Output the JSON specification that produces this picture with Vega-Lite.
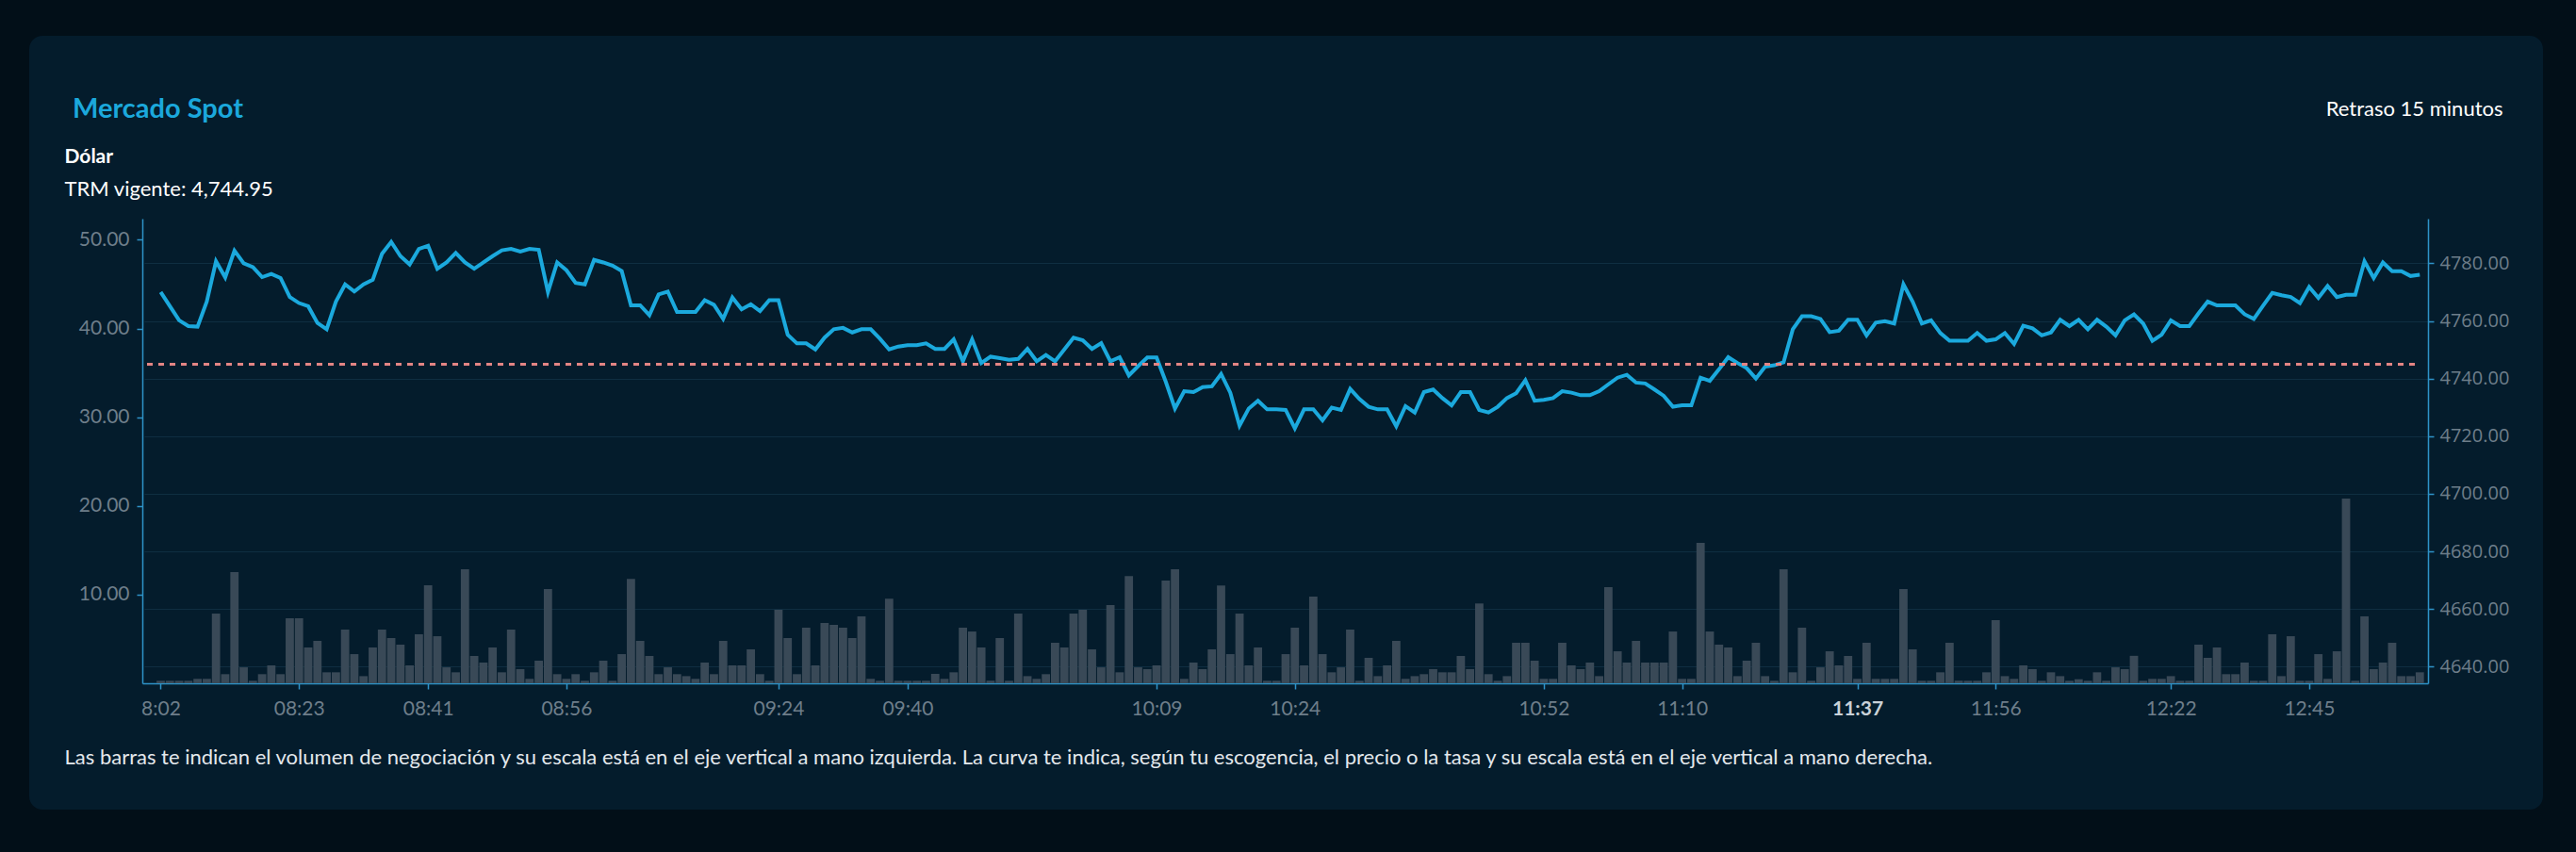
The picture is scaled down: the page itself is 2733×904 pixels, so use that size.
{
  "$schema": "https://vega.github.io/schema/vega-lite/v6.json",
  "width": 2667,
  "height": 821,
  "autosize": "none",
  "padding": {"left": 31, "top": 38, "right": 35, "bottom": 45},
  "background": "#020f18",
  "title": {
    "text": "Mercado Spot",
    "anchor": "start",
    "frame": "group",
    "orient": "top",
    "offset": -93,
    "dx": 46,
    "font": "Lato",
    "fontSize": 29,
    "fontWeight": "bold",
    "color": "#1ba8dc"
  },
  "datasets": {
    "mercado": [
      {"i": 0, "volumen": 0.28, "precio": 4770.0},
      {"i": 1, "volumen": 0.28, "precio": 4765.1},
      {"i": 2, "volumen": 0.28, "precio": 4760.2},
      {"i": 3, "volumen": 0.28, "precio": 4758.2},
      {"i": 4, "volumen": 0.5, "precio": 4758.0},
      {"i": 5, "volumen": 0.5, "precio": 4766.7},
      {"i": 6, "volumen": 7.86, "precio": 4780.7},
      {"i": 7, "volumen": 1.03, "precio": 4775.1},
      {"i": 8, "volumen": 12.54, "precio": 4784.4},
      {"i": 9, "volumen": 1.8, "precio": 4780.0},
      {"i": 10, "volumen": 0.28, "precio": 4778.7},
      {"i": 11, "volumen": 1.03, "precio": 4775.2},
      {"i": 12, "volumen": 2.02, "precio": 4776.3},
      {"i": 13, "volumen": 1.03, "precio": 4774.9},
      {"i": 14, "volumen": 7.33, "precio": 4768.3},
      {"i": 15, "volumen": 7.33, "precio": 4766.2},
      {"i": 16, "volumen": 4.04, "precio": 4765.1},
      {"i": 17, "volumen": 4.78, "precio": 4759.3},
      {"i": 18, "volumen": 1.24, "precio": 4757.1},
      {"i": 19, "volumen": 1.24, "precio": 4766.7},
      {"i": 20, "volumen": 6.06, "precio": 4772.7},
      {"i": 21, "volumen": 3.29, "precio": 4770.2},
      {"i": 22, "volumen": 0.81, "precio": 4772.7},
      {"i": 23, "volumen": 4.04, "precio": 4774.3},
      {"i": 24, "volumen": 6.06, "precio": 4783.3},
      {"i": 25, "volumen": 5.1, "precio": 4787.4},
      {"i": 26, "volumen": 4.36, "precio": 4782.5},
      {"i": 27, "volumen": 2.02, "precio": 4779.6},
      {"i": 28, "volumen": 5.53, "precio": 4785.0},
      {"i": 29, "volumen": 11.05, "precio": 4786.1},
      {"i": 30, "volumen": 5.31, "precio": 4778.1},
      {"i": 31, "volumen": 1.8, "precio": 4780.3},
      {"i": 32, "volumen": 1.24, "precio": 4783.6},
      {"i": 33, "volumen": 12.86, "precio": 4780.3},
      {"i": 34, "volumen": 3.08, "precio": 4778.1},
      {"i": 35, "volumen": 2.34, "precio": 4780.3},
      {"i": 36, "volumen": 4.04, "precio": 4782.5},
      {"i": 37, "volumen": 1.24, "precio": 4784.5},
      {"i": 38, "volumen": 6.06, "precio": 4785.0},
      {"i": 39, "volumen": 1.6, "precio": 4784.1},
      {"i": 40, "volumen": 0.5, "precio": 4785.0},
      {"i": 41, "volumen": 2.55, "precio": 4784.7},
      {"i": 42, "volumen": 10.63, "precio": 4770.0},
      {"i": 43, "volumen": 1.03, "precio": 4780.3},
      {"i": 44, "volumen": 0.5, "precio": 4777.6},
      {"i": 45, "volumen": 1.03, "precio": 4773.2},
      {"i": 46, "volumen": 0.28, "precio": 4772.7},
      {"i": 47, "volumen": 1.24, "precio": 4781.2},
      {"i": 48, "volumen": 2.55, "precio": 4780.3},
      {"i": 49, "volumen": 0.28, "precio": 4779.2},
      {"i": 50, "volumen": 3.29, "precio": 4777.3},
      {"i": 51, "volumen": 11.76, "precio": 4765.4},
      {"i": 52, "volumen": 4.78, "precio": 4765.4},
      {"i": 53, "volumen": 3.08, "precio": 4762.0},
      {"i": 54, "volumen": 1.03, "precio": 4769.2},
      {"i": 55, "volumen": 1.8, "precio": 4770.2},
      {"i": 56, "volumen": 1.03, "precio": 4763.1},
      {"i": 57, "volumen": 0.81, "precio": 4763.1},
      {"i": 58, "volumen": 0.5, "precio": 4763.1},
      {"i": 59, "volumen": 2.34, "precio": 4767.2},
      {"i": 60, "volumen": 1.03, "precio": 4765.6},
      {"i": 61, "volumen": 4.78, "precio": 4760.7},
      {"i": 62, "volumen": 2.02, "precio": 4768.1},
      {"i": 63, "volumen": 2.02, "precio": 4764.0},
      {"i": 64, "volumen": 3.83, "precio": 4765.8},
      {"i": 65, "volumen": 1.03, "precio": 4763.4},
      {"i": 66, "volumen": 0.28, "precio": 4767.2},
      {"i": 67, "volumen": 8.29, "precio": 4767.2},
      {"i": 68, "volumen": 5.1, "precio": 4755.2},
      {"i": 69, "volumen": 1.03, "precio": 4752.2},
      {"i": 70, "volumen": 6.27, "precio": 4752.2},
      {"i": 71, "volumen": 2.02, "precio": 4750.1},
      {"i": 72, "volumen": 6.8, "precio": 4754.2},
      {"i": 73, "volumen": 6.59, "precio": 4757.1},
      {"i": 74, "volumen": 6.27, "precio": 4757.6},
      {"i": 75, "volumen": 5.1, "precio": 4756.0},
      {"i": 76, "volumen": 7.55, "precio": 4757.1},
      {"i": 77, "volumen": 0.5, "precio": 4757.1},
      {"i": 78, "volumen": 0.28, "precio": 4753.8},
      {"i": 79, "volumen": 9.53, "precio": 4750.1},
      {"i": 80, "volumen": 0.28, "precio": 4751.1},
      {"i": 81, "volumen": 0.28, "precio": 4751.6},
      {"i": 82, "volumen": 0.28, "precio": 4751.6},
      {"i": 83, "volumen": 0.28, "precio": 4752.2},
      {"i": 84, "volumen": 1.06, "precio": 4750.3},
      {"i": 85, "volumen": 0.5, "precio": 4750.3},
      {"i": 86, "volumen": 1.24, "precio": 4753.6},
      {"i": 87, "volumen": 6.27, "precio": 4746.0},
      {"i": 88, "volumen": 5.84, "precio": 4753.6},
      {"i": 89, "volumen": 4.04, "precio": 4745.4},
      {"i": 90, "volumen": 0.28, "precio": 4747.6},
      {"i": 91, "volumen": 5.1, "precio": 4747.1},
      {"i": 92, "volumen": 0.28, "precio": 4746.5},
      {"i": 93, "volumen": 7.86, "precio": 4746.8},
      {"i": 94, "volumen": 0.81, "precio": 4750.3},
      {"i": 95, "volumen": 0.5, "precio": 4746.0},
      {"i": 96, "volumen": 1.03, "precio": 4748.2},
      {"i": 97, "volumen": 4.57, "precio": 4746.0},
      {"i": 98, "volumen": 4.04, "precio": 4750.1},
      {"i": 99, "volumen": 7.86, "precio": 4754.2},
      {"i": 100, "volumen": 8.29, "precio": 4753.3},
      {"i": 101, "volumen": 3.83, "precio": 4750.3},
      {"i": 102, "volumen": 1.8, "precio": 4752.3},
      {"i": 103, "volumen": 8.82, "precio": 4746.0},
      {"i": 104, "volumen": 1.24, "precio": 4747.4},
      {"i": 105, "volumen": 12.08, "precio": 4741.1},
      {"i": 106, "volumen": 1.8, "precio": 4744.3},
      {"i": 107, "volumen": 1.6, "precio": 4747.3},
      {"i": 108, "volumen": 2.02, "precio": 4747.3},
      {"i": 109, "volumen": 11.58, "precio": 4738.9},
      {"i": 110, "volumen": 12.86, "precio": 4729.6},
      {"i": 111, "volumen": 0.5, "precio": 4735.6},
      {"i": 112, "volumen": 2.34, "precio": 4735.3},
      {"i": 113, "volumen": 1.6, "precio": 4737.0},
      {"i": 114, "volumen": 3.83, "precio": 4737.3},
      {"i": 115, "volumen": 11.02, "precio": 4741.6},
      {"i": 116, "volumen": 3.29, "precio": 4735.1},
      {"i": 117, "volumen": 7.86, "precio": 4723.6},
      {"i": 118, "volumen": 2.02, "precio": 4729.6},
      {"i": 119, "volumen": 4.04, "precio": 4732.3},
      {"i": 120, "volumen": 0.28, "precio": 4729.3},
      {"i": 121, "volumen": 0.28, "precio": 4729.3},
      {"i": 122, "volumen": 3.29, "precio": 4729.1},
      {"i": 123, "volumen": 6.27, "precio": 4722.7},
      {"i": 124, "volumen": 2.02, "precio": 4729.3},
      {"i": 125, "volumen": 9.78, "precio": 4729.3},
      {"i": 126, "volumen": 3.29, "precio": 4725.5},
      {"i": 127, "volumen": 1.24, "precio": 4729.9},
      {"i": 128, "volumen": 1.8, "precio": 4729.1},
      {"i": 129, "volumen": 6.06, "precio": 4736.4},
      {"i": 130, "volumen": 0.28, "precio": 4732.9},
      {"i": 131, "volumen": 2.87, "precio": 4730.2},
      {"i": 132, "volumen": 0.81, "precio": 4729.3},
      {"i": 133, "volumen": 2.02, "precio": 4729.3},
      {"i": 134, "volumen": 4.78, "precio": 4723.4},
      {"i": 135, "volumen": 0.5, "precio": 4730.4},
      {"i": 136, "volumen": 0.81, "precio": 4728.2},
      {"i": 137, "volumen": 1.03, "precio": 4735.3},
      {"i": 138, "volumen": 1.6, "precio": 4736.2},
      {"i": 139, "volumen": 1.24, "precio": 4733.2},
      {"i": 140, "volumen": 1.24, "precio": 4730.7},
      {"i": 141, "volumen": 3.08, "precio": 4735.3},
      {"i": 142, "volumen": 1.6, "precio": 4735.3},
      {"i": 143, "volumen": 9.0, "precio": 4729.1},
      {"i": 144, "volumen": 1.03, "precio": 4728.2},
      {"i": 145, "volumen": 0.28, "precio": 4730.2},
      {"i": 146, "volumen": 0.81, "precio": 4733.2},
      {"i": 147, "volumen": 4.57, "precio": 4734.9},
      {"i": 148, "volumen": 4.57, "precio": 4739.4},
      {"i": 149, "volumen": 2.55, "precio": 4732.3},
      {"i": 150, "volumen": 0.5, "precio": 4732.6},
      {"i": 151, "volumen": 0.5, "precio": 4733.2},
      {"i": 152, "volumen": 4.57, "precio": 4735.6},
      {"i": 153, "volumen": 2.02, "precio": 4735.1},
      {"i": 154, "volumen": 1.6, "precio": 4734.2},
      {"i": 155, "volumen": 2.34, "precio": 4734.2},
      {"i": 156, "volumen": 0.81, "precio": 4735.6},
      {"i": 157, "volumen": 10.84, "precio": 4738.0},
      {"i": 158, "volumen": 3.61, "precio": 4740.3},
      {"i": 159, "volumen": 2.34, "precio": 4741.3},
      {"i": 160, "volumen": 4.78, "precio": 4738.6},
      {"i": 161, "volumen": 2.34, "precio": 4738.3},
      {"i": 162, "volumen": 2.34, "precio": 4736.2},
      {"i": 163, "volumen": 2.34, "precio": 4734.0},
      {"i": 164, "volumen": 5.84, "precio": 4730.2},
      {"i": 165, "volumen": 0.5, "precio": 4730.7},
      {"i": 166, "volumen": 0.5, "precio": 4730.7},
      {"i": 167, "volumen": 15.83, "precio": 4740.3},
      {"i": 168, "volumen": 5.84, "precio": 4739.2},
      {"i": 169, "volumen": 4.36, "precio": 4743.2},
      {"i": 170, "volumen": 4.04, "precio": 4747.4},
      {"i": 171, "volumen": 0.81, "precio": 4745.4},
      {"i": 172, "volumen": 2.55, "precio": 4743.6},
      {"i": 173, "volumen": 4.57, "precio": 4740.0},
      {"i": 174, "volumen": 0.81, "precio": 4744.1},
      {"i": 175, "volumen": 0.28, "precio": 4744.6},
      {"i": 176, "volumen": 12.86, "precio": 4745.6},
      {"i": 177, "volumen": 1.24, "precio": 4757.1},
      {"i": 178, "volumen": 6.27, "precio": 4761.6},
      {"i": 179, "volumen": 0.28, "precio": 4761.6},
      {"i": 180, "volumen": 1.8, "precio": 4760.7},
      {"i": 181, "volumen": 3.61, "precio": 4756.1},
      {"i": 182, "volumen": 2.02, "precio": 4756.6},
      {"i": 183, "volumen": 3.08, "precio": 4760.4},
      {"i": 184, "volumen": 0.5, "precio": 4760.4},
      {"i": 185, "volumen": 4.57, "precio": 4755.0},
      {"i": 186, "volumen": 0.5, "precio": 4759.4},
      {"i": 187, "volumen": 0.5, "precio": 4759.9},
      {"i": 188, "volumen": 0.5, "precio": 4759.1},
      {"i": 189, "volumen": 10.63, "precio": 4772.7},
      {"i": 190, "volumen": 3.83, "precio": 4766.7},
      {"i": 191, "volumen": 0.28, "precio": 4759.1},
      {"i": 192, "volumen": 0.28, "precio": 4760.2},
      {"i": 193, "volumen": 1.24, "precio": 4755.8},
      {"i": 194, "volumen": 4.57, "precio": 4753.1},
      {"i": 195, "volumen": 0.28, "precio": 4753.1},
      {"i": 196, "volumen": 0.28, "precio": 4753.1},
      {"i": 197, "volumen": 0.28, "precio": 4755.8},
      {"i": 198, "volumen": 1.24, "precio": 4753.1},
      {"i": 199, "volumen": 7.12, "precio": 4753.6},
      {"i": 200, "volumen": 0.81, "precio": 4755.8},
      {"i": 201, "volumen": 0.5, "precio": 4752.0},
      {"i": 202, "volumen": 2.02, "precio": 4758.3},
      {"i": 203, "volumen": 1.6, "precio": 4757.4},
      {"i": 204, "volumen": 0.28, "precio": 4755.0},
      {"i": 205, "volumen": 1.24, "precio": 4756.0},
      {"i": 206, "volumen": 0.81, "precio": 4760.4},
      {"i": 207, "volumen": 0.28, "precio": 4758.2},
      {"i": 208, "volumen": 0.46, "precio": 4760.4},
      {"i": 209, "volumen": 0.28, "precio": 4757.1},
      {"i": 210, "volumen": 1.24, "precio": 4760.4},
      {"i": 211, "volumen": 0.28, "precio": 4758.0},
      {"i": 212, "volumen": 1.8, "precio": 4755.0},
      {"i": 213, "volumen": 1.6, "precio": 4760.2},
      {"i": 214, "volumen": 3.1, "precio": 4762.3},
      {"i": 215, "volumen": 0.28, "precio": 4759.1},
      {"i": 216, "volumen": 0.5, "precio": 4753.1},
      {"i": 217, "volumen": 0.5, "precio": 4755.2},
      {"i": 218, "volumen": 0.81, "precio": 4760.2},
      {"i": 219, "volumen": 0.28, "precio": 4758.2},
      {"i": 220, "volumen": 0.28, "precio": 4758.2},
      {"i": 221, "volumen": 4.36, "precio": 4762.6},
      {"i": 222, "volumen": 2.87, "precio": 4766.7},
      {"i": 223, "volumen": 4.04, "precio": 4765.4},
      {"i": 224, "volumen": 1.03, "precio": 4765.4},
      {"i": 225, "volumen": 1.03, "precio": 4765.4},
      {"i": 226, "volumen": 2.34, "precio": 4762.3},
      {"i": 227, "volumen": 0.28, "precio": 4760.7},
      {"i": 228, "volumen": 0.28, "precio": 4765.3},
      {"i": 229, "volumen": 5.53, "precio": 4769.7},
      {"i": 230, "volumen": 0.81, "precio": 4768.9},
      {"i": 231, "volumen": 5.31, "precio": 4768.3},
      {"i": 232, "volumen": 0.28, "precio": 4766.2},
      {"i": 233, "volumen": 0.28, "precio": 4771.8},
      {"i": 234, "volumen": 3.29, "precio": 4768.0},
      {"i": 235, "volumen": 0.5, "precio": 4772.1},
      {"i": 236, "volumen": 3.61, "precio": 4768.3},
      {"i": 237, "volumen": 20.83, "precio": 4769.1},
      {"i": 238, "volumen": 0.28, "precio": 4769.1},
      {"i": 239, "volumen": 7.55, "precio": 4780.7},
      {"i": 240, "volumen": 1.6, "precio": 4774.9},
      {"i": 241, "volumen": 2.34, "precio": 4780.3},
      {"i": 242, "volumen": 4.57, "precio": 4777.3},
      {"i": 243, "volumen": 0.81, "precio": 4777.3},
      {"i": 244, "volumen": 0.81, "precio": 4775.6},
      {"i": 245, "volumen": 1.24, "precio": 4776.0}
    ],
    "trm": [{"valor": 4744.95}]
  },
  "layer": [
    {
      "data": {"name": "mercado"},
      "mark": {"type": "bar", "width": 8.8, "color": "#394957"},
      "encoding": {
        "x": {
          "field": "i",
          "type": "quantitative",
          "scale": {"domain": [-1.48, 245.38], "range": [120, 2545], "nice": false, "zero": false},
          "axis": {
            "orient": "bottom",
            "offset": -134,
            "values": [0, 15, 29, 44, 67, 81, 108, 123, 150, 165, 184, 199, 218, 233],
            "labelExpr": "['8:02','08:23','08:41','08:56','09:24','09:40','10:09','10:24','10:52','11:10','11:37','11:56','12:22','12:45'][indexof([0,15,29,44,67,81,108,123,150,165,184,199,218,233], datum.value)]",
            "labelFontWeight": {"condition": {"test": "datum.value == 184", "value": "bold"}, "value": "normal"},
            "labelColor": {"condition": {"test": "datum.value == 184", "value": "#c9d1d8"}, "value": "#6e7e8a"},
            "labelPadding": 10,
            "labelFlush": false,
            "labelOverlap": false,
            "grid": false,
            "title": "Las barras te indican el volumen de negociación y su escala está en el eje vertical a mano izquierda. La curva te indica, según tu escogencia, el precio o la tasa y su escala está en el eje vertical a mano derecha.",
            "titleX": 37,
            "titleY": 78,
            "titleAlign": "left",
            "titleAnchor": null,
            "titleBaseline": "middle",
            "titleColor": "#e3e8ec",
            "titleFontSize": 22,
            "titleFontWeight": "normal"
          }
        },
        "y": {
          "field": "volumen",
          "type": "quantitative",
          "scale": {"domain": [0, 52.39], "range": [687, 194], "nice": false},
          "axis": {
            "orient": "left",
            "offset": -120,
            "values": [10, 20, 30, 40, 50],
            "format": ".2f",
            "grid": false,
            "labelPadding": 8,
            "title": "Dólar",
            "titleAngle": 0,
            "titleX": -83,
            "titleY": 128,
            "titleAlign": "left",
            "titleAnchor": null,
            "titleBaseline": "middle",
            "titleColor": "#ffffff",
            "titleFontSize": 21,
            "titleFontWeight": "bold"
          }
        }
      }
    },
    {
      "data": {"name": "mercado"},
      "mark": {"type": "line", "color": "#1ba9dd", "strokeWidth": 4, "strokeJoin": "miter"},
      "encoding": {
        "x": {
          "field": "i",
          "type": "quantitative",
          "scale": {"domain": [-1.48, 245.38], "range": [120, 2545], "nice": false, "zero": false},
          "axis": {
            "orient": "top",
            "offset": 0,
            "labels": false,
            "ticks": false,
            "domain": false,
            "grid": false,
            "title": "TRM vigente: 4,744.95",
            "titleX": 37,
            "titleY": 162,
            "titleAlign": "left",
            "titleAnchor": null,
            "titleBaseline": "middle",
            "titleColor": "#ffffff",
            "titleFontSize": 22,
            "titleFontWeight": "normal"
          }
        },
        "y": {
          "field": "precio",
          "type": "quantitative",
          "scale": {"domain": [4634.2, 4795.5], "range": [687, 194], "nice": false, "zero": false},
          "axis": {
            "orient": "right",
            "offset": -122,
            "values": [4640, 4660, 4680, 4700, 4720, 4740, 4760, 4780],
            "format": ".2f",
            "grid": true,
            "gridColor": "#0f2e41",
            "gridWidth": 1,
            "labelFont": "Open Sans",
            "labelFontSize": 20,
            "labelPadding": 6,
            "title": "Retraso 15 minutos",
            "titleAngle": 0,
            "titleX": 79,
            "titleY": 77,
            "titleAlign": "right",
            "titleAnchor": null,
            "titleBaseline": "middle",
            "titleColor": "#ffffff",
            "titleFontSize": 22,
            "titleFontWeight": "normal"
          }
        }
      }
    },
    {
      "data": {"name": "trm"},
      "mark": {"type": "rule", "color": "#e38584", "strokeWidth": 3, "strokeDash": [6, 6]},
      "encoding": {
        "x": {"datum": -1.48, "type": "quantitative", "scale": {"domain": [-1.48, 245.38], "range": [120, 2545], "nice": false, "zero": false}, "axis": null},
        "x2": {"datum": 245.0},
        "y": {"field": "valor", "type": "quantitative", "scale": {"domain": [4634.2, 4795.5], "range": [687, 194], "nice": false, "zero": false}, "axis": null}
      }
    }
  ],
  "resolve": {"scale": {"y": "independent"}, "axis": {"x": "independent"}},
  "config": {
    "view": {"fill": "#041c2c", "stroke": null, "cornerRadius": 14},
    "font": "Lato",
    "axis": {
      "domainColor": "#2e93c8",
      "domainWidth": 1.5,
      "tickColor": "#2e93c8",
      "tickSize": 6,
      "tickWidth": 1.5,
      "labelColor": "#6e7e8a",
      "labelFont": "Lato",
      "labelFontSize": 21,
      "titleFont": "Lato"
    }
  }
}
